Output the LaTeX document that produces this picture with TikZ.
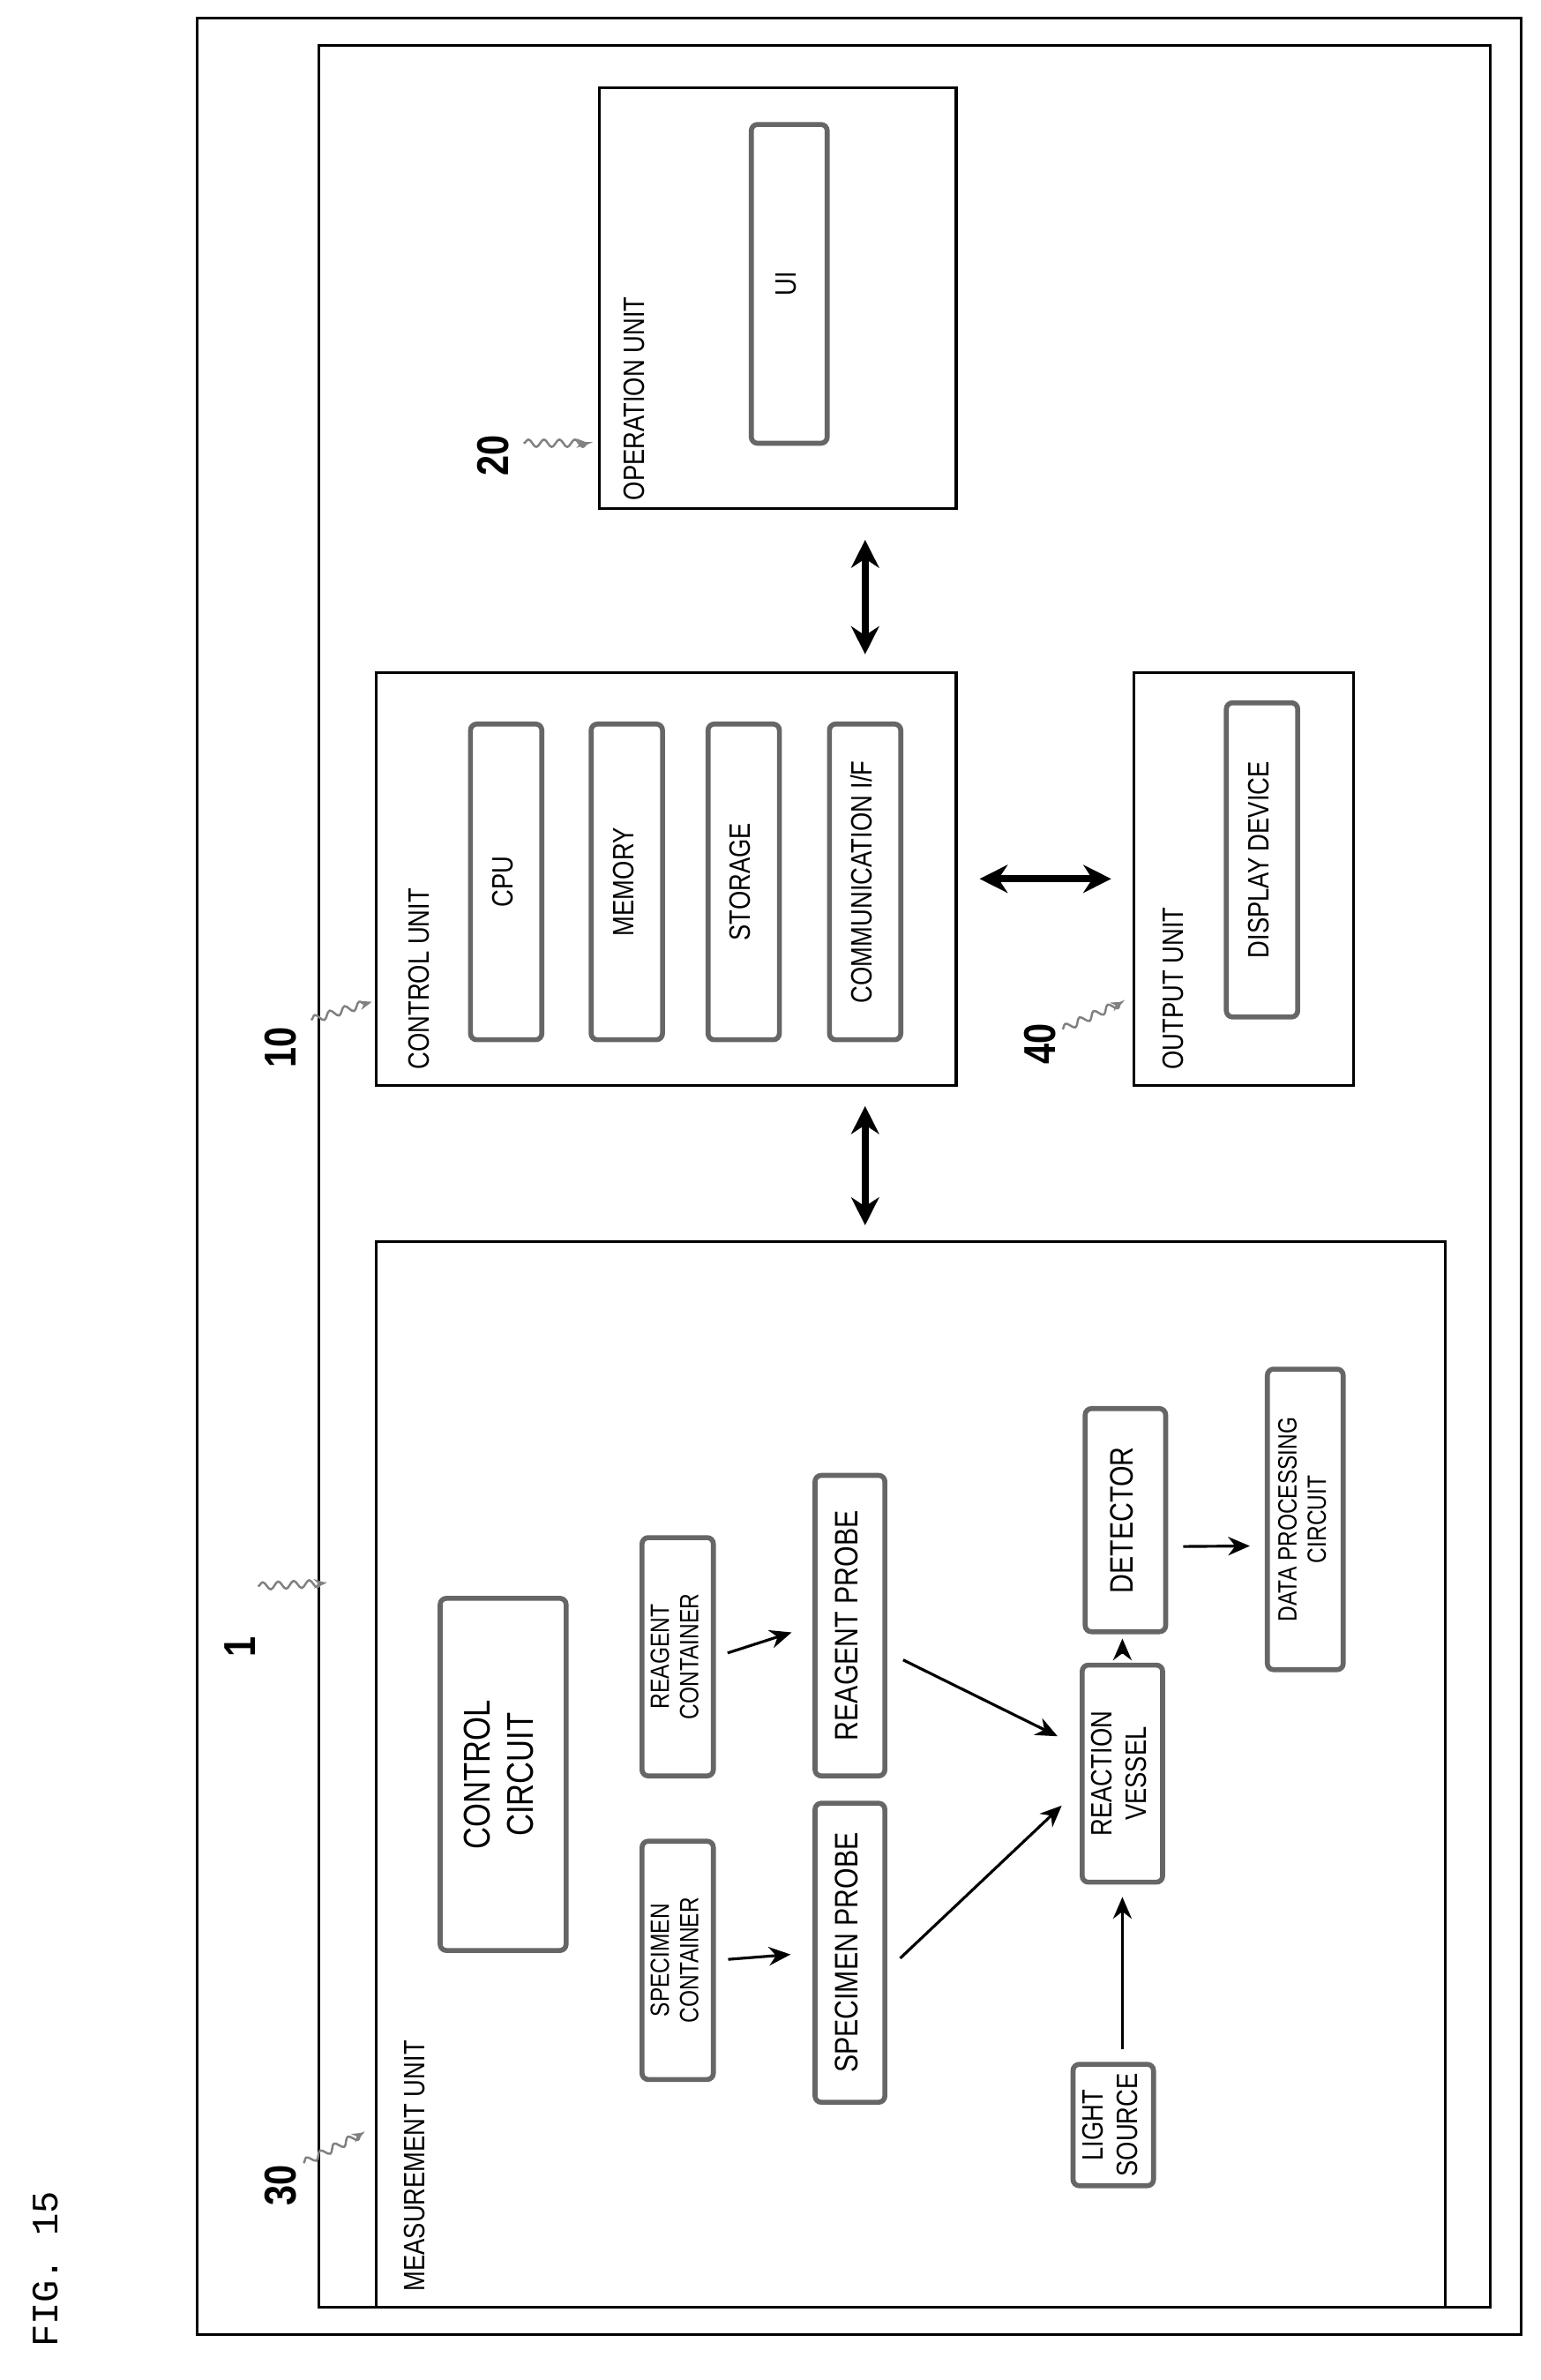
\documentclass[tikz,border=0pt]{standalone}
\usepackage{fontspec}
\setmainfont{Liberation Sans}[FakeStretch=0.82]
\newfontfamily\figfont{Liberation Mono}
\usetikzlibrary{arrows.meta,decorations.pathmorphing}
\newcommand{\dpx}{0.01721cm}
\newcommand{\rt}[1]{\rotatebox{90}{\begin{tabular}{@{}c@{}}#1\end{tabular}}}
\begin{document}
\begin{tikzpicture}[x=0.01721cm,y=-0.01721cm,
  frame/.style={shape=rectangle,draw=black,line width=0.9pt,inner sep=0pt},
  part/.style={shape=rectangle,draw=black!60,line width=1.6pt,rounded corners=2pt,inner sep=0pt,font=\fontsize{9.5}{11}\selectfont},
  unitlabel/.style={inner sep=0pt,font=\fontsize{9.5}{11}\selectfont},
  refnum/.style={inner sep=0pt,font=\bfseries\Large},
  both/.style={line width=2.2pt,{Stealth[length=9pt,width=9pt]}-{Stealth[length=9pt,width=9pt]}},
  flow/.style={line width=0.9pt,-{Stealth[length=7pt,width=6pt]}},
  wiggle/.style={gray,line width=0.7pt,decorate,decoration={snake,amplitude=1.2pt,segment length=5pt},-{Stealth[length=4pt]}}]
\path[use as bounding box] (0,0) rectangle (1015,1568);
\node[inner sep=0pt,font=\figfont\large] (fig) at (30,1495) {\rotatebox{90}{FIG. 15}};
% outer frames
\node[frame,minimum width={872*\dpx},minimum height={1526*\dpx}] (sys) at (566,775) {};
\node[frame,minimum width={772*\dpx},minimum height={1490*\dpx}] (inner) at (596,775) {};
% operation unit
\node[frame,minimum width={235*\dpx},minimum height={277*\dpx}] (op) at (512.5,196.5) {};
\node[unitlabel,anchor=south] at (418,330) {\rotatebox{90}{OPERATION UNIT}};
\node[part,minimum width={50*\dpx},minimum height={210*\dpx}] (ui) at (520,187) {\rt{UI}};
% control unit
\node[frame,minimum width={382*\dpx},minimum height={272*\dpx}] (ctrl) at (439,579) {};
\node[unitlabel,anchor=south] at (276,705) {\rotatebox{90}{CONTROL UNIT}};
\node[part,minimum width={47*\dpx},minimum height={208*\dpx}] (cpu) at (333.5,581) {\rt{CPU}};
\node[part,minimum width={47*\dpx},minimum height={208*\dpx}] (mem) at (413,581) {\rt{MEMORY}};
\node[part,minimum width={47*\dpx},minimum height={208*\dpx}] (stor) at (490,581) {\rt{STORAGE}};
\node[part,minimum width={47*\dpx},minimum height={208*\dpx}] (comm) at (570,581) {\rt{COMMUNICATION I/F}};
% output unit
\node[frame,minimum width={145*\dpx},minimum height={272*\dpx}] (out) at (819.5,579) {};
\node[unitlabel,anchor=south] at (773,705) {\rotatebox{90}{OUTPUT UNIT}};
\node[part,minimum width={47*\dpx},minimum height={207*\dpx}] (disp) at (831.5,566.5) {\rt{DISPLAY DEVICE}};
% measurement unit
\node[frame,minimum width={704*\dpx},minimum height={702*\dpx}] (meas) at (600,1169) {};
\node[unitlabel,anchor=south] at (273,1510) {\rotatebox{90}{MEASUREMENT UNIT}};
\node[part,font=\fontsize{12}{14}\selectfont,minimum width={83*\dpx},minimum height={232*\dpx}] (cc) at (331.5,1169) {\rt{CONTROL\\CIRCUIT}};
\node[part,font=\fontsize{8.5}{9.5}\selectfont,minimum width={47*\dpx},minimum height={157*\dpx}] (scont) at (446.5,1291.5) {\rt{SPECIMEN\\CONTAINER}};
\node[part,font=\fontsize{8.5}{9.5}\selectfont,minimum width={47*\dpx},minimum height={157*\dpx}] (rcont) at (446.5,1091.5) {\rt{REAGENT\\CONTAINER}};
\node[part,font=\fontsize{10.5}{12}\selectfont,minimum width={46*\dpx},minimum height={197*\dpx}] (sprobe) at (560,1286.5) {\rt{SPECIMEN PROBE}};
\node[part,font=\fontsize{10.5}{12}\selectfont,minimum width={46*\dpx},minimum height={198*\dpx}] (rprobe) at (560,1071) {\rt{REAGENT PROBE}};
\node[part,minimum width={53*\dpx},minimum height={80*\dpx}] (light) at (733.5,1400) {\rt{LIGHT\\SOURCE}};
\node[part,minimum width={53*\dpx},minimum height={143*\dpx}] (vessel) at (739.5,1168.5) {\rt{REACTION\\VESSEL}};
\node[part,font=\fontsize{10.5}{12}\selectfont,minimum width={53*\dpx},minimum height={147*\dpx}] (det) at (741.5,1001.5) {\rt{DETECTOR}};
\node[part,font=\fontsize{8.5}{9.5}\selectfont,minimum width={50*\dpx},minimum height={198*\dpx}] (dpc) at (860,1001) {\rt{DATA PROCESSING\\CIRCUIT}};
% reference numbers
\node[refnum] (n20) at (325,300) {\rotatebox{90}{20}};
\node[refnum] (n10) at (185,690) {\rotatebox{90}{10}};
\node[refnum] (n40) at (685,688) {\rotatebox{90}{40}};
\node[refnum] (n30) at (185,1440) {\rotatebox{90}{30}};
\node[refnum] (n1) at (158,1085) {\rotatebox{90}{1}};
\coordinate (w20) at (388,292);
\coordinate (w10) at (245,660);
\coordinate (w40) at (740,660);
\coordinate (w30) at (240,1405);
\coordinate (w1) at (215,1043);
\draw[wiggle] (n20) ++(20,-8) -- (w20);
\draw[wiggle] (n10) ++(20,-18) -- (w10);
\draw[wiggle] (n40) ++(15,-10) -- (w40);
\draw[wiggle] (n30) ++(15,-15) -- (w30);
\draw[wiggle] (n1) ++(12,-40) -- (w1);
% connections between units
\draw[both,shorten <=0.34cm,shorten >=0.19cm] (op.south -| comm) -- (ctrl.north -| comm);
\draw[both,shorten <=0.25cm,shorten >=0.24cm] (ctrl.east) -- (out.west);
\draw[both,shorten <=0.22cm,shorten >=0.17cm] (ctrl.south -| comm) -- (meas.north -| comm);
% measurement flow
\draw[flow,shorten <=0.14cm,shorten >=0.25cm] (scont.east) -- (sprobe.west);
\draw[flow,shorten <=0.14cm,shorten >=0.25cm] (rcont.east) -- (rprobe.west);
\draw[flow,shorten <=0.2cm,shorten >=0.28cm] ([yshift=-0.2cm]sprobe.east) -- ([yshift=-0.17cm]vessel.west);
\draw[flow,shorten <=0.2cm,shorten >=0.28cm] ([yshift=-0.3cm]rprobe.east) -- ([yshift=0.3cm]vessel.west);
\draw[flow,shorten <=0.14cm,shorten >=0.14cm] (light.north -| vessel) -- (vessel.south);
\draw[flow,shorten <=0.1cm,shorten >=0.05cm] (vessel.north) -- (vessel.north |- det.south);
\draw[flow,shorten <=0.17cm,shorten >=0.17cm] ([yshift=-0.3cm]det.east) -- ([yshift=-0.3cm]dpc.west);
\end{tikzpicture}
\end{document}
